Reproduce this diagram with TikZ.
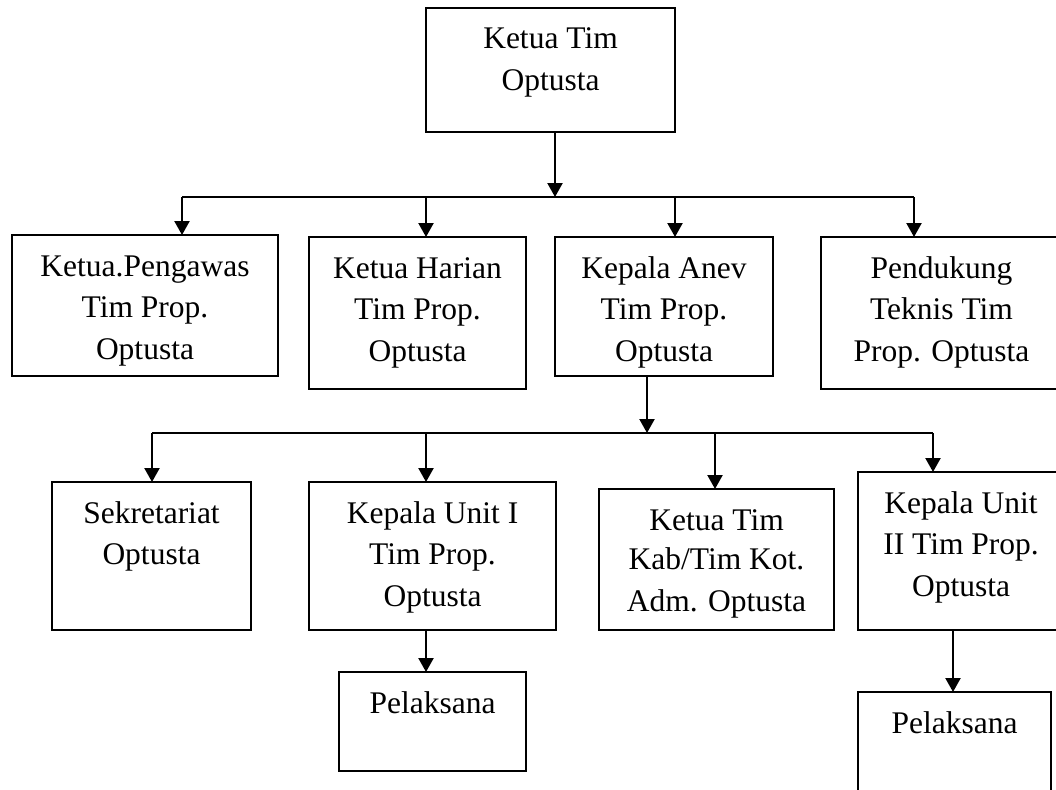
\documentclass[tikz,border=0pt]{standalone}
\usepackage{fontspec}
\setmainfont{Liberation Serif}
\usetikzlibrary{arrows.meta}
\newcommand{\bxt}[3]{\parbox[t][#2pt][t]{#1pt}{\centering\rule{0pt}{41pt}#3}}
\tikzset{
  orgbox/.style={draw, line width=1.8pt, inner sep=0pt, outer sep=0pt, anchor=north west,
    font=\fontsize{31.5}{41.8}\selectfont},
  conn/.style={line width=2.3pt},
  arr/.style={line width=2.3pt, -{Triangle[width=15pt,length=14pt]}}
}
\begin{document}
\begin{tikzpicture}[x=1pt,y=-1pt]
\useasboundingbox (0,0) rectangle (1056,789);
% boxes
\node[orgbox] (ketua) at (426,8) {\bxt{249}{124}{Ketua Tim\\Optusta}};
\node[orgbox] (peng) at (12,235) {\bxt{266}{141}{Ketua.Pengawas\\Tim Prop.\\Optusta}};
\node[orgbox] (harian) at (309,237) {\bxt{217}{152}{Ketua Harian\\Tim Prop.\\Optusta}};
\node[orgbox] (anev) at (555,237) {\bxt{218}{139}{Kepala Anev\\Tim Prop.\\Optusta}};
\node[orgbox] (pend) at (821,237) {\bxt{241}{152}{Pendukung\\Teknis Tim\\Prop. Optusta}};
\node[orgbox] (sek) at (52,482) {\bxt{199}{148}{Sekretariat\\Optusta}};
\node[orgbox] (unit1) at (309,482) {\bxt{247}{148}{Kepala Unit I\\Tim Prop.\\Optusta}};
\node[orgbox] (kab) at (599,489) {\bxt{235}{141}{\vspace*{-2pt}Ketua Tim\\Kab/Tim Kot.\\Adm. Optusta}};
\node[orgbox] (unit2) at (858,472) {\bxt{206}{158}{Kepala Unit\\II Tim Prop.\\Optusta}};
\node[orgbox] (pel1) at (339,672) {\bxt{187}{99}{Pelaksana}};
\node[orgbox] (pel2) at (858,692) {\bxt{193}{120}{Pelaksana}};
% bus coordinates
\coordinate (t0) at (555,197);
\coordinate (a1) at (182,197);
\coordinate (a2) at (426,197);
\coordinate (a3) at (675,197);
\coordinate (a4) at (914,197);
\coordinate (m0) at (647,433);
\coordinate (b1) at (152,433);
\coordinate (b2) at (426,433);
\coordinate (b3) at (715,433);
\coordinate (b4) at (933,433);
\coordinate (p1) at (426,630);
\coordinate (p2) at (953,630);
% upper level
\draw[arr] (ketua.south -| t0) -- (t0);
\draw[conn] (a1) -- (a4);
\draw[arr] (a1) -- (a1 |- peng.north);
\draw[arr] (a2) -- (a2 |- harian.north);
\draw[arr] (a3) -- (a3 |- anev.north);
\draw[arr] (a4) -- (a4 |- pend.north);
% lower level
\draw[arr] (anev.south -| m0) -- (m0);
\draw[conn] (b1) -- (b4);
\draw[arr] (b1) -- (b1 |- sek.north);
\draw[arr] (b2) -- (b2 |- unit1.north);
\draw[arr] (b3) -- (b3 |- kab.north);
\draw[arr] (b4) -- (b4 |- unit2.north);
% pelaksana
\draw[arr] (unit1.south -| p1) -- (p1 |- pel1.north);
\draw[arr] (unit2.south -| p2) -- (p2 |- pel2.north);
\end{tikzpicture}
\end{document}
